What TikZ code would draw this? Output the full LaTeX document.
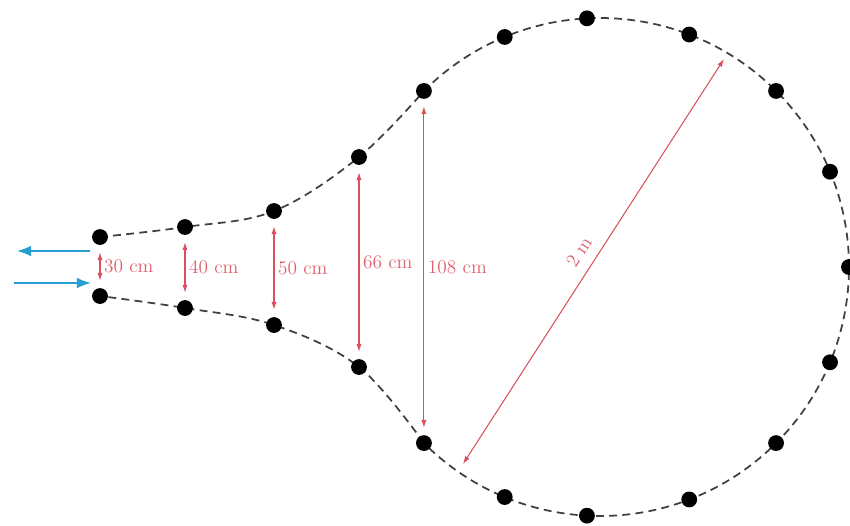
\documentclass[tikz,border=0pt]{standalone}
\usepackage{tikz}
\usetikzlibrary{arrows.meta}
\definecolor{dimred}{RGB}{218,80,94}
\definecolor{flowblue}{RGB}{38,158,208}

\begin{document}
\begin{tikzpicture}[x=0.02cm, y=-0.02cm, font=\fontsize{11}{13}\selectfont,
                    wire/.style={line width=1pt, black!75, dash pattern=on 4.5pt off 3pt},
                    dot/.style={circle, fill=black, inner sep=0pt, minimum size=9pt},
                    dim/.style={dimred, line width=0.6pt, {Latex[length=4.5pt, width=3pt]}-{Latex[length=4.5pt, width=3pt]},
                                shorten <=4pt, shorten >=4pt},
                    lbl/.style={text=dimred!90, inner sep=2pt},
                    flow/.style={flowblue, line width=0.9pt, -{Latex[length=8pt, width=6pt]}}]
  \useasboundingbox (0,0) rectangle (850,525);
  % outline of the neck and the loop
  \coordinate (o) at (600,267);
  \coordinate (t1) at (100,237); \coordinate (t2) at (185,227); \coordinate (t3) at (274,211);
  \coordinate (t4) at (359,157);
  \coordinate (b4) at (359,367); \coordinate (b3) at (274,325);
  \coordinate (b2) at (185,308); \coordinate (b1) at (100,296);
  \path (o) ++(-135:249) coordinate (t5) (o) ++(135:249) coordinate (b5);
  \foreach \a [count=\i] in {-112.5,-93,-69,-45,-22.5,0,22.5,45,69,93,112.5}
    \path (o) ++(\a:249) coordinate (c\i);
  \draw[wire] plot[smooth, tension=0.6] coordinates {(t1) (t2) (t3) (t4) (t5)}
    arc[start angle=-135, end angle=135, radius=249]
    plot[smooth, tension=0.6] coordinates {(b5) (b4) (b3) (b2) (b1)};
  \foreach \p in {t1,t2,t3,t4,t5,c1,c2,c3,c4,c5,c6,c7,c8,c9,c10,c11,b5,b4,b3,b2,b1}
    \node[dot] (d\p) at (\p) {};
  % widths
  \draw[dim] (dt1) -- node[lbl, right] (l30) {30 cm} (db1);
  \draw[dim] (dt2) -- node[lbl, right] (l40) {40 cm} (db2);
  \draw[dim] (dt3) -- node[lbl, right] (l50) {50 cm} (db3);
  \draw[dim] (dt4) -- node[lbl, right] (l66) {66 cm} (db4);
  \draw[dim] (dt5) -- node[lbl, right] (l108) {108 cm} (db5);
  \coordinate (dA) at (724,59); \coordinate (dB) at (463,464);
  \draw[dim, shorten <=0pt, shorten >=0pt] (dB) -- node[lbl, sloped, above=4pt] (l2m) {2 m} (dA);
  % in and out
  \coordinate (o1) at (90,251); \coordinate (o2) at (17,251);
  \coordinate (i1) at (14,283); \coordinate (i2) at (91,283);
  \draw[flow] (o1) -- (o2);
  \draw[flow] (i1) -- (i2);
\end{tikzpicture}
\end{document}
